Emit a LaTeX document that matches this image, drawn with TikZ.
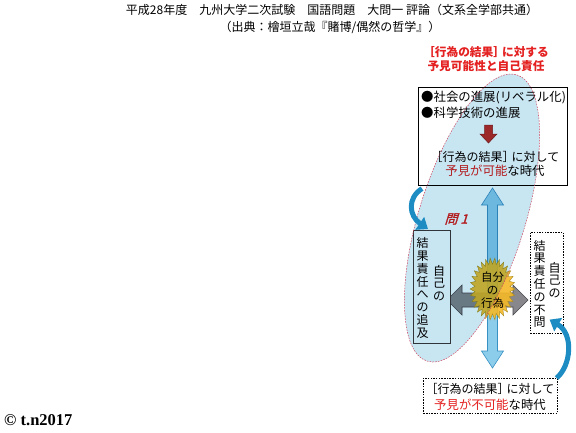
\documentclass[tikz,border=0pt]{standalone}
\usepackage{fontspec}
\setmainfont{Noto Sans CJK JP}
\newfontfamily\cserif{Liberation Serif}
\newfontfamily\toifont{Noto Sans CJK JP}[FakeSlant=0.3,FakeBold=1.5]
\usetikzlibrary{arrows.meta,calc}
\definecolor{redtxt}{RGB}{228,32,32}
\definecolor{ellF}{RGB}{200,229,242}
\definecolor{ellD}{RGB}{205,70,95}
\definecolor{arrred}{RGB}{200,45,45}
\definecolor{blueF}{RGB}{140,205,235}
\definecolor{blueE}{RGB}{55,145,195}
\definecolor{greyF}{RGB}{135,135,140}
\definecolor{greyE}{RGB}{70,70,75}
\definecolor{starF}{RGB}{245,185,40}
\definecolor{starE}{RGB}{170,140,30}
\definecolor{curveB}{RGB}{28,140,195}
\definecolor{lbE}{RGB}{60,60,60}
\tikzset{
  title/.style={font=\fontsize{12}{14}\selectfont, inner sep=0pt},
  btxt/.style={font=\fontsize{12.4}{13}\selectfont, inner sep=0pt},
  ktxt/.style={font=\fontsize{12}{13}\selectfont, inner sep=0pt},
  vtxt/.style={font=\fontsize{12}{12.8}\selectfont, align=center, inner sep=0pt},
  redh/.style={font=\bfseries\fontsize{11.7}{14}\selectfont, text=redtxt, inner sep=0pt, align=center},
  dotbox/.style={draw, dash pattern=on 1.5pt off 1.2pt, line width=0.6pt, inner sep=0pt},
  curvearrow/.style={curveB, line width=5pt, -{Triangle[length=10pt,width=15pt]}},
}
\begin{document}
\begin{tikzpicture}[x=1pt,y=-1pt]
\useasboundingbox (0,0) rectangle (576,432);
\fill[white] (0,0) rectangle (576,432);

\node[title] (t1) at (332,10) {平成28年度　九州大学二次試験　国語問題　大問一 評論（文系全学部共通）};
\node[title] (t2) at (330,27) {（出典：檜垣立哉『賭博/偶然の哲学』）};
\node[redh] (h1) at (486,59) {［行為の結果］\kern-3pt に対する\\予見可能性と自己責任};

% upper box
\node[draw, line width=0.6pt, minimum width=149pt, minimum height=98pt, inner sep=0pt, anchor=north west] (box1) at (418,87) {};
\node[btxt, anchor=west] (s1) at (421,98) {●社会の進展(リベラル化)};
\node[btxt, anchor=west] (s2) at (421,113) {●科学技術の進展};
\filldraw[fill=arrred, draw=arrred!70!black, line width=0.5pt] (484.5,125) -- (492.5,125) -- (492.5,134) -- (497,134) -- (488.5,143) -- (480,134) -- (484.5,134) -- cycle;
\node[ktxt] (r1) at (495,157) {［行為の結果］\kern-3pt に対して};
\node[btxt] (r2) at (495,170.5) {\textcolor{redtxt}{予見が可能}な時代};

% vertical double arrow
\filldraw[fill=blueF, draw=blueE, line width=0.6pt] (492.5,188) -- (503.5,205) -- (497.5,205) -- (497.5,351) -- (503.5,351) -- (492.5,368) -- (481.5,351) -- (487.5,351) -- (487.5,205) -- (481.5,205) -- cycle;
% horizontal double arrow
\filldraw[fill=greyF, draw=greyE, line width=0.6pt] (447,300) -- (462,285) -- (462,293) -- (513,293) -- (513,285) -- (528,300) -- (513,315) -- (513,307) -- (462,307) -- (462,315) -- cycle;
% starburst
\filldraw[fill=starF, fill opacity=0.9, draw=starE, line width=0.4pt]
  plot[samples=60, domain=0:59, variable=\k]
  ({492.5+22.5*(1-0.22*mod(round(\k),2))*cos(\k*6)}, {289+31*(1-0.2*mod(round(\k),2))*sin(\k*6)}) -- cycle;
\node[vtxt, font=\fontsize{11.5}{13}\selectfont] (act) at (492.5,290) {自分\\の\\行為};

% left box
\node[draw=lbE, fill=white, line width=0.6pt, minimum width=37pt, minimum height=113pt, anchor=north west, inner sep=0pt] (lb) at (413,230) {};
\node[vtxt] (lb1) at (422.5,288) {結\\果\\責\\任\\へ\\の\\追\\及};
\node[vtxt] (lb2) at (439,283) {自\\己\\の};

% right box
\node[dotbox, minimum width=33pt, minimum height=101pt, anchor=north west] (rb) at (530,232) {};
\node[vtxt] (rb1) at (539.5,284) {結\\果\\責\\任\\の\\不\\問};
\node[vtxt] (rb2) at (554.5,280) {自\\己\\の};

% bottom box
\node[dotbox, minimum width=134pt, minimum height=35pt, anchor=north west] (bb) at (423,378) {};
\node[ktxt] (bb1) at (490,389) {［行為の結果］\kern-3pt に対して};
\node[btxt] (bb2) at (490,405) {\textcolor{redtxt}{予見が不可能}な時代};

% question label
\node[text=redtxt, font=\toifont\fontsize{13}{13}\selectfont, inner sep=0pt] (q1) at (456,219) {問 1};

% ellipse overlay
\begin{scope}[blend mode=multiply]
\fill[ellF, rotate around={72.6:(472,218)}] (472,218) ellipse [x radius=150, y radius=53];
\end{scope}
\draw[ellD, dash pattern=on 1.6pt off 1.2pt, line width=0.5pt, rotate around={72.6:(472,218)}] (472,218) ellipse [x radius=150, y radius=53];

% curved arrows
\coordinate (c1s) at ($(box1.south west)+(4,3)$);
\coordinate (c1e) at ($(lb.north west)+(15,-1)$);
\draw[curvearrow] (c1s) .. controls (407,198) and (409,216) .. (c1e);
\coordinate (c2s) at ($(bb.north east)+(-1,0)$);
\coordinate (c2e) at ($(rb.south east)+(-14,-14)$);
\draw[curvearrow] (c2s) .. controls (571,366) and (574,334) .. (c2e);

\node[font=\cserif\bfseries\fontsize{16.5}{16.5}\selectfont, anchor=west, inner sep=0pt] (cp) at (4,420) {© t.n2017};
\end{tikzpicture}
\end{document}
